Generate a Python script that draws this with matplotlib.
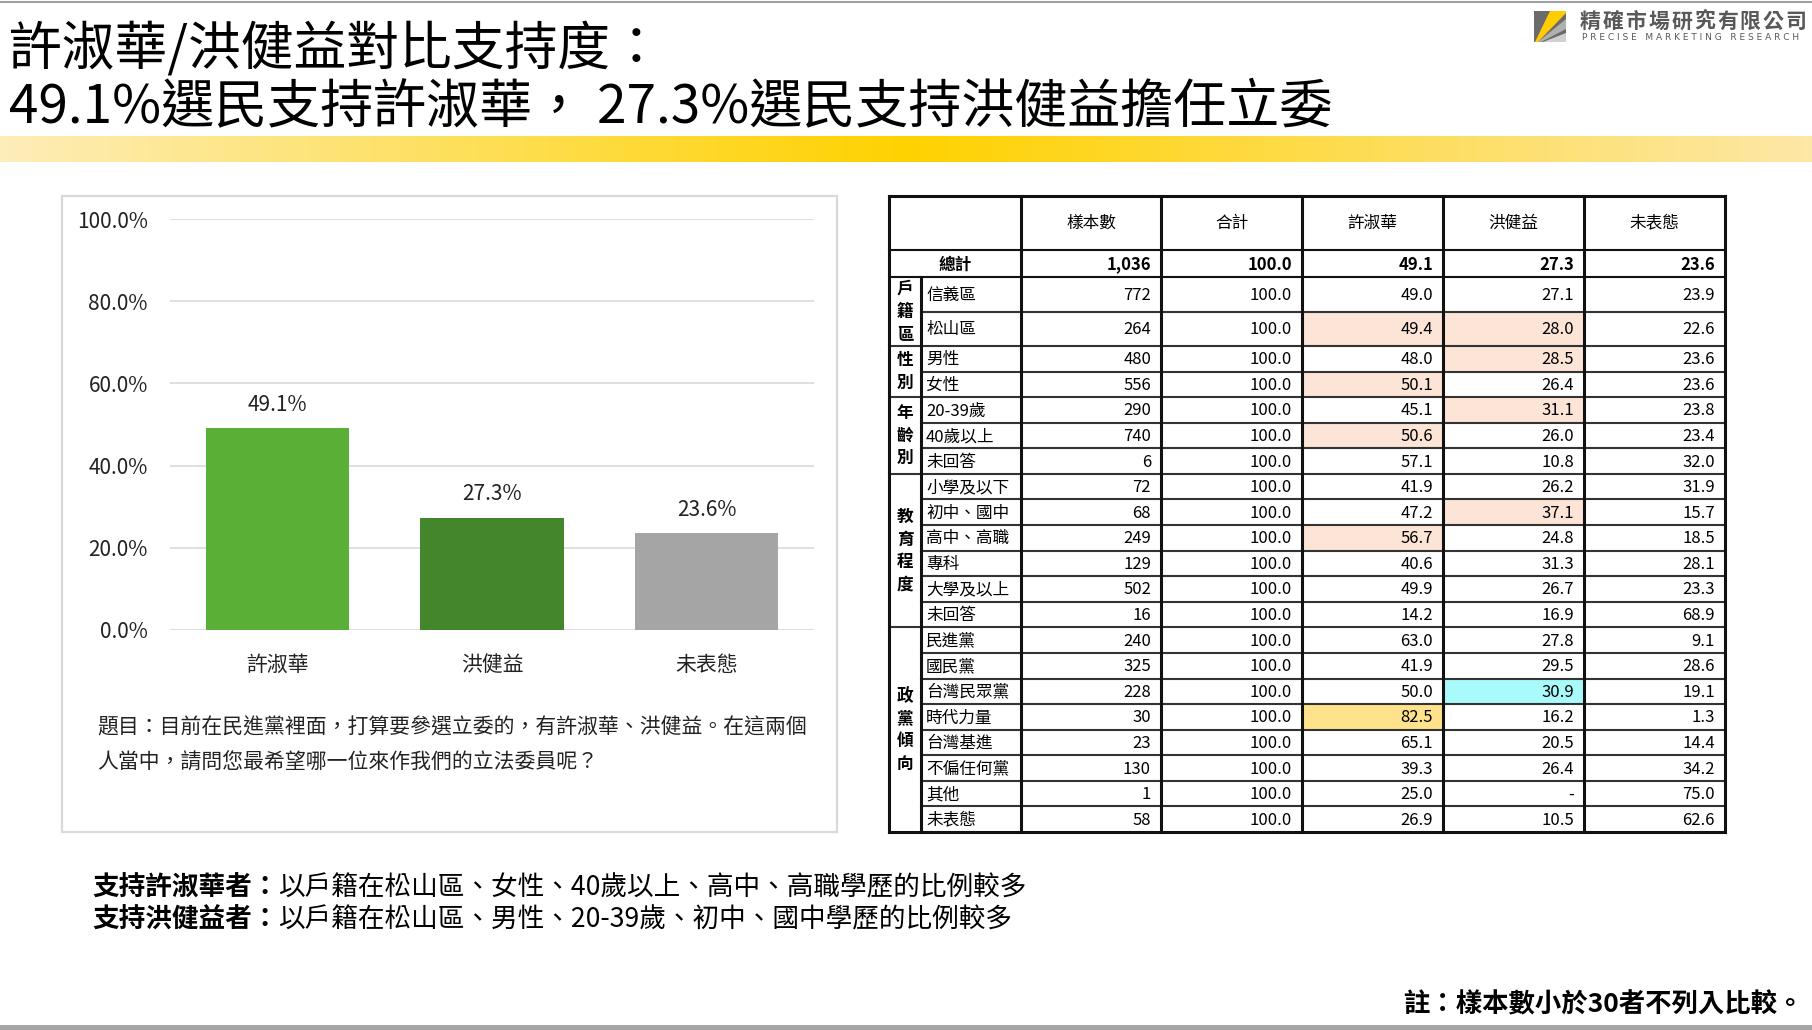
import numpy as np
import matplotlib.pyplot as plt
from matplotlib.patches import Rectangle, Polygon
from matplotlib.colors import LinearSegmentedColormap

plt.rcParams['font.family'] = ['Noto Sans CJK TC', 'DejaVu Sans']

# bar chart data
candidates = ['許淑華', '洪健益', '未表態']
support = [49.1, 27.3, 23.6]
bar_colors = ['#5AAF36', '#43862B', '#A5A5A5']

# table data
col_heads = ['樣本數', '合計', '許淑華', '洪健益', '未表態']
total_row = ['1,036', '100.0', '49.1', '27.3', '23.6']
groups = ['戶籍區', '性別', '年齡別', '教育程度', '政黨傾向']
group_sizes = [2, 2, 3, 6, 8]
row_labels = ['信義區', '松山區', '男性', '女性', '20-39歲', '40歲以上', '未回答',
              '小學及以下', '初中、國中', '高中、高職', '專科', '大學及以上', '未回答',
              '民進黨', '國民黨', '台灣民眾黨', '時代力量', '台灣基進', '不偏任何黨', '其他', '未表態']
sample_n = [772, 264, 480, 556, 290, 740, 6, 72, 68, 249, 129, 502, 16,
            240, 325, 228, 30, 23, 130, 1, 58]
pct_total = [100.0] * 21
pct_hsu = [49.0, 49.4, 48.0, 50.1, 45.1, 50.6, 57.1, 41.9, 47.2, 56.7, 40.6, 49.9, 14.2,
           63.0, 41.9, 50.0, 82.5, 65.1, 39.3, 25.0, 26.9]
pct_hung = [27.1, 28.0, 28.5, 26.4, 31.1, 26.0, 10.8, 26.2, 37.1, 24.8, 31.3, 26.7, 16.9,
            27.8, 29.5, 30.9, 16.2, 20.5, 26.4, None, 10.5]
pct_none = [23.9, 22.6, 23.6, 23.6, 23.8, 23.4, 32.0, 31.9, 15.7, 18.5, 28.1, 23.3, 68.9,
            9.1, 28.6, 19.1, 1.3, 14.4, 34.2, 75.0, 62.6]
# highlighted cells: (row, column of col_heads, colour key)
highlights = [(1, 2, 'p'), (1, 3, 'p'), (2, 3, 'p'), (3, 2, 'p'), (4, 3, 'p'),
              (5, 2, 'p'), (8, 3, 'p'), (9, 2, 'p'), (15, 3, 'c'), (16, 2, 'y')]
hl_colors = {'p': '#FCE4D6', 'c': '#A9FBFB', 'y': '#FFE38C'}

title1 = '許淑華/洪健益對比支持度：'
title2 = '49.1%選民支持許淑華， 27.3%選民支持洪健益擔任立委'
question = ['題目：目前在民進黨裡面，打算要參選立委的，有許淑華、洪健益。在這兩個',
            '人當中，請問您最希望哪一位來作我們的立法委員呢？']
summary_head = ['支持許淑華者：', '支持洪健益者：']
summary_body = ['以戶籍在松山區、女性、40歲以上、高中、高職學歷的比例較多',
                '以戶籍在松山區、男性、20-39歲、初中、國中學歷的比例較多']
note = '註：樣本數小於30者不列入比較。'

W, H = 1812, 1030
fig = plt.figure(figsize=(W / 100, H / 100), dpi=100)
bg = fig.add_axes([0, 0, 1, 1])
bg.set_xlim(0, W)
bg.set_ylim(H, 0)
bg.axis('off')

# top/bottom rules and gradient band
bg.plot([0, W], [1.5, 1.5], color='#A0A0A0', lw=1.5)
bg.add_patch(Rectangle((0, 1025), W, 5, color='#A6A6A6', lw=0))
band = LinearSegmentedColormap.from_list('band', ['#FDEDB8', '#FFD200', '#FDE7A6'])
bg.imshow(np.linspace(0, 1, 400)[None, :], cmap=band, aspect='auto',
          extent=[0, W, 162, 136], zorder=0)
bg.set_xlim(0, W)
bg.set_ylim(H, 0)

# titles
bg.text(9, 49, title1, fontsize=38, va='center', ha='left', color='black')
bg.text(9, 108, title2, fontsize=38.2, va='center', ha='left', color='black')

# logo
bg.add_patch(Rectangle((1534, 11), 32, 31, color='#6B6B6B', lw=0))
bg.add_patch(Polygon([(1550, 11), (1566, 11), (1566, 13), (1538, 42), (1535, 42)], color='#FFCC00', lw=0))
bg.add_patch(Polygon([(1566, 19), (1566, 29), (1541, 42), (1538, 42)], color='#B0B0B0', lw=0))
bg.add_patch(Polygon([(1566, 33), (1566, 42), (1543, 42)], color='#D0D0D0', lw=0))
for k, ch in enumerate('精確市場研究有限公司'):
    bg.text(1590 + k * 22.9, 21, ch, fontsize=15, fontweight='bold', color='#595959',
            va='center', ha='center')
bg.text(1582, 38, ' '.join('PRECISE') + '   ' + ' '.join('MARKETING') + '   ' + ' '.join('RESEARCH'),
        fontsize=6.5, color='#595959', va='center', ha='left', family='DejaVu Sans')

# chart panel
bg.add_patch(Rectangle((62, 196), 775, 636, fill=False, ec='#D9D9D9', lw=1.6))

ax = fig.add_axes([170 / W, 1 - 630 / H, (814 - 170) / W, (630 - 219) / H])
ax.patch.set_alpha(0)
x = np.arange(len(candidates))
ax.bar(x, support, width=0.667, color=bar_colors, zorder=3)
for xi, v in zip(x, support):
    ax.annotate(f'{v:.1f}%', (xi, v), xytext=(0, 9), textcoords='offset points',
                ha='center', va='bottom', fontsize=15, color='#222222')
ax.set_xlim(-0.5, 2.5)
ax.set_ylim(0, 100)
ax.set_yticks(np.arange(0, 101, 20))
ax.set_yticklabels([f'{t:.1f}%' for t in np.arange(0, 101, 20)])
ax.set_xticks(x)
ax.set_xticklabels(candidates)
ax.yaxis.grid(True, color='#D9D9D9', lw=1.2, zorder=0)
ax.tick_params(axis='y', length=0, pad=16, labelsize=15, labelcolor='#222222')
ax.tick_params(axis='x', length=0, pad=17, labelsize=15, labelcolor='#222222')
for s in ax.spines.values():
    s.set_visible(False)

bg.text(97, 727, question[0], fontsize=15, va='center', ha='left', color='#222222')
bg.text(97, 763, question[1], fontsize=15, va='center', ha='left', color='#222222')

# summary and note
for i in range(2):
    yy = 888 + 32 * i
    bg.text(92, yy, summary_head[i], fontsize=19.2, fontweight='bold', va='center', ha='left')
    bg.text(278, yy, summary_body[i], fontsize=19.2, va='center', ha='left')
bg.text(1803, 1005, note, fontsize=19, fontweight='bold', va='center', ha='right')

# table layout
col_x = [889, 921, 1021, 1161, 1302, 1443, 1584, 1725]
edges = [196, 250, 277, 311.5, 346] + [346 + 486 / 19 * (i + 1) for i in range(19)]
body_top = edges[2:]
fs = 12

for r, c, k in highlights:
    bg.add_patch(Rectangle((col_x[c + 2], body_top[r]), col_x[c + 3] - col_x[c + 2],
                           body_top[r + 1] - body_top[r], color=hl_colors[k], lw=0, zorder=1))

thick, thin, lc = 2.2, 1.5, '#111111'
# verticals
for cx in [889] + col_x[2:]:
    bg.plot([cx, cx], [196, 832], color=lc, lw=thick, zorder=3, solid_capstyle='projecting')
bg.plot([921, 921], [277, 832], color=lc, lw=thick, zorder=3)
# horizontals
bg.plot([889, 1725], [196, 196], color=lc, lw=thick, zorder=3)
bg.plot([889, 1725], [832, 832], color=lc, lw=thick, zorder=3)
bg.plot([889, 1725], [250, 250], color=lc, lw=thin, zorder=2)
bg.plot([889, 1725], [277, 277], color=lc, lw=thin, zorder=2)
group_ends = np.cumsum(group_sizes)
for i in range(1, len(row_labels)):
    x0 = 889 if i in group_ends else 921
    bg.plot([x0, 1725], [body_top[i], body_top[i]], color='#333333', lw=thin, zorder=2)

# header text
for j, h in enumerate(col_heads):
    bg.text((col_x[j + 2] + col_x[j + 3]) / 2, 223, h, fontsize=fs, ha='center', va='center')
# total row
yc = (250 + 277) / 2 + 1
bg.text(955, yc, '總計', fontsize=fs, fontweight='bold', ha='center', va='center')
for j, v in enumerate(total_row):
    bg.text(col_x[j + 3] - 10, yc, v, fontsize=fs, fontweight='bold', ha='right', va='center')

# body rows
for i, lab in enumerate(row_labels):
    yc = (body_top[i] + body_top[i + 1]) / 2 + 1
    bg.text(926, yc, lab, fontsize=fs, ha='left', va='center', zorder=4)
    vals = [f'{sample_n[i]}', f'{pct_total[i]:.1f}', f'{pct_hsu[i]:.1f}',
            '-' if pct_hung[i] is None else f'{pct_hung[i]:.1f}', f'{pct_none[i]:.1f}']
    for j, v in enumerate(vals):
        bg.text(col_x[j + 3] - 10, yc, v, fontsize=fs, ha='right', va='center', zorder=4)

# group labels, stacked vertically
start = 0
for g, n in zip(groups, group_sizes):
    gc = (body_top[start] + body_top[start + n]) / 2
    for k, ch in enumerate(g):
        bg.text(905, gc + (k - (len(g) - 1) / 2) * 22.7, ch, fontsize=fs,
                fontweight='bold', ha='center', va='center', zorder=4)
    start += n

fig.savefig('out.png', dpi=100)
